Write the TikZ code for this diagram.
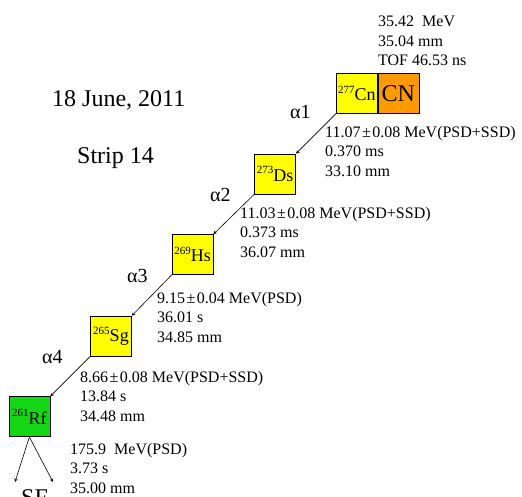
\documentclass[tikz,border=0pt]{standalone}
\usepackage{fontspec}
\setmainfont{Liberation Serif}
\usepackage{xcolor}
\usepackage{tikz}
\usetikzlibrary{positioning}

\definecolor{nucyellow}{RGB}{255,255,0}
\definecolor{nucorange}{RGB}{255,153,0}
\definecolor{nucgreen}{RGB}{20,214,20}

\newcommand{\nuc}[2]{\raisebox{0.42em}{\fontsize{11}{11}\selectfont #1}#2}
\newcommand{\pmerr}{\hspace{1.5pt}±\hspace{1.5pt}}

\begin{document}
\begin{tikzpicture}[x=1pt, y=-1pt,
    nucbox/.style={rectangle, draw, line width=0.6pt, minimum width=41pt, minimum height=40pt, inner sep=0pt, font=\fontsize{18}{18}\selectfont},
    datatext/.style={anchor=north west, inner sep=0pt, align=left, font=\fontsize{16}{19.5}\selectfont},
    decaylabel/.style={anchor=base west, inner sep=0pt, font=\fontsize{20}{20}\selectfont},
    title/.style={anchor=base west, inner sep=0pt, font=\fontsize{24}{24}\selectfont},
    arrow/.style={line width=0.6pt,->,>=stealth}]

    \useasboundingbox (0,0) rectangle (522,496);
    \clip (0,0) rectangle (522,496);

    % decay chain
    \node (cn) [nucbox, fill=nucyellow, anchor=north west] at (336,73) {\nuc{277}{Cn}};
    \node (cnmark) [nucbox, fill=nucorange, right=0pt of cn, font=\fontsize{24}{24}\selectfont] {CN};
    \node (ds) [nucbox, fill=nucyellow, below left=40pt and 40pt of cn.south west, anchor=north east] {\nuc{273}{Ds}};
    \node (hs) [nucbox, fill=nucyellow, below left=40pt and 41pt of ds.south west, anchor=north east] {\nuc{269}{Hs}};
    \node (sg) [nucbox, fill=nucyellow, below left=41pt and 40pt of hs.south west, anchor=north east] {\nuc{265}{Sg}};
    \node (rf) [nucbox, fill=nucgreen, below left=40pt and 40pt of sg.south west, anchor=north east] {\nuc{261}{Rf}};
    \node (sf) [title] at (21,505) {SF};
    \coordinate (sfl) at (15,482);
    \coordinate (sfr) at (53,482);

    \draw [arrow] (cn.south west) -- (ds.north east);
    \draw [arrow] (ds.south west) -- (hs.north east);
    \draw [arrow] (hs.south west) -- (sg.north east);
    \draw [arrow] (sg.south west) -- (rf.north east);
    \draw [arrow] (rf.south) -- (sfl);
    \draw [arrow] (rf.south) -- (sfr);

    % labels
    \node (date) [title] at (52,106) {18 June, 2011};
    \node (strip) [title] at (77,163) {Strip 14};
    \node (a1) [decaylabel] at (290,118) {α1};
    \node (a2) [decaylabel] at (210,201) {α2};
    \node (a3) [decaylabel] at (127,282) {α3};
    \node (a4) [decaylabel] at (42,363) {α4};

    \node (evr) [datatext] at (378,16) {35.42\ \ MeV\\35.04 mm\\TOF 46.53 ns};
    \node (ea1) [datatext] at (325,126) {11.07\pmerr 0.08 MeV(PSD+SSD)\\0.370 ms\\33.10 mm};
    \node (ea2) [datatext] at (240,207) {11.03\pmerr 0.08 MeV(PSD+SSD)\\0.373 ms\\36.07 mm};
    \node (ea3) [datatext] at (157,292) {9.15\pmerr 0.04 MeV(PSD)\\36.01 s\\34.85 mm};
    \node (ea4) [datatext] at (80,371) {8.66\pmerr 0.08 MeV(PSD+SSD)\\13.84 s\\34.48 mm};
    \node (esf) [datatext] at (70,443) {175.9\ \ MeV(PSD)\\3.73 s\\35.00 mm};
\end{tikzpicture}
\end{document}
